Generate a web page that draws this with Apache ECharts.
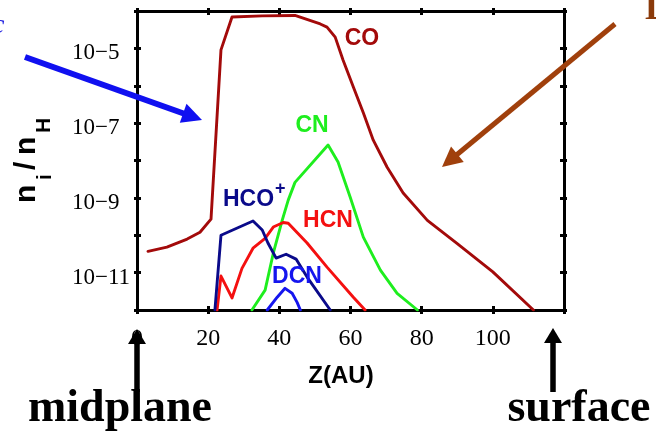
<!DOCTYPE html>
<html>
<head>
<meta charset="utf-8">
<script src="https://cdn.jsdelivr.net/npm/echarts@6/dist/echarts.min.js"></script>
<style>
html,body{margin:0;padding:0;background:#fff;}
#chart{width:656px;height:438px;}
</style>
</head>
<body>
<div id="chart"></div>
<script>
// ---- data (z in AU, abundance n_i/n_H) ----
const zCO  = [3.1, 8.4, 14.1, 17.7, 20.8, 23.6, 26.7, 35.2, 44.4, 51.5, 53.4, 55.7, 57.9, 60.8, 63.6, 66.4, 70.3, 74.8, 81.6, 90, 100, 111.4];
const nCO  = [3.7e-11, 4.8e-11, 7.9e-11, 1.2e-10, 2.7e-10, 9.1e-6, 6.9e-5, 7.4e-5, 7.6e-5, 4.5e-5, 3.7e-5, 2.0e-5, 4.9e-6, 9.3e-7, 1.9e-7, 3.5e-8, 6.6e-9, 1.35e-9, 2.5e-10, 6.0e-11, 1.05e-11, 1e-12];

const zCN  = [32.3, 36.0, 38.3, 40.8, 42.5, 44.4, 53.7, 56.5, 59.9, 63.6, 68.4, 73.1, 78.8];
const nCN  = [1e-12, 3.4e-12, 3.3e-11, 2.5e-10, 8.7e-10, 2.6e-9, 2.6e-8, 9.1e-9, 1.05e-9, 8.9e-11, 1.17e-11, 2.8e-12, 1e-12];

const zHCN = [22.5, 23.6, 26.7, 29.5, 32.6, 36.0, 38.3, 41.1, 42.5, 47.8, 53.4, 60.8, 64.1];
const nHCN = [1e-12, 8.1e-12, 2.1e-12, 1.3e-11, 4.5e-11, 8.3e-11, 1.66e-10, 2.2e-10, 2.1e-10, 6.2e-11, 1.4e-11, 2.2e-12, 1e-12];

const zHCOp = [21.9, 23.6, 32.6, 35.2, 36.8, 39.1, 41.9, 44.7, 47.8, 54.3];
const nHCOp = [1e-12, 1.0e-10, 2.4e-10, 1.38e-10, 6.2e-11, 2.45e-11, 3.1e-11, 2.3e-11, 7.6e-12, 1e-12];

const zDCN = [36.6, 39.4, 41.6, 43.6, 45.0, 45.9];
const nDCN = [1e-12, 2.2e-12, 3.8e-12, 2.8e-12, 1.6e-12, 1e-12];

const xTicks = [0, 20, 40, 60, 80, 100];
const yLabelExps = [-5, -7, -9, -11];
const speciesNames = ['CO', 'CN', 'HCO', 'HCN', 'DCN'];

// ---- build ----
const pair = (xs, ys) => xs.map((x, i) => [x, ys[i]]);
const serifTick = '"Liberation Serif", "Times New Roman", serif';
const sans = '"Liberation Sans", Arial, sans-serif';

const chart = echarts.init(document.getElementById('chart'), null, {renderer: 'canvas'});

const baseX = {type: 'value', min: 0, max: 120, interval: 20, splitLine: {show: false}};
const baseY = {type: 'log', logBase: 10, min: 1e-12, max: 1e-4, splitNumber: 8, splitLine: {show: false}};
const lineStyleAxis = {show: true, lineStyle: {color: '#000', width: 3}};

function mkLine(name, data, color, w) {
  return {type: 'line', name, data, xAxisIndex: 0, yAxisIndex: 0, symbol: 'none', smooth: false,
    lineStyle: {color, width: w, join: 'round', cap: 'round'}, itemStyle: {color}, z: 3};
}

function arrow(x1, y1, x2, y2, color, w, hl, hw) {
  const dx = x2 - x1, dy = y2 - y1, L = Math.hypot(dx, dy);
  const ux = dx / L, uy = dy / L, px = -uy, py = ux;
  const bx = x2 - ux * hl, by = y2 - uy * hl;
  return [
    {type: 'line', shape: {x1, y1, x2: bx + ux * 2, y2: by + uy * 2}, style: {stroke: color, lineWidth: w}, z: 50},
    {type: 'polygon', shape: {points: [[x2, y2], [bx + px * hw, by + py * hw], [bx - px * hw, by - py * hw]]},
      style: {fill: color}, z: 50}
  ];
}

const option = {
  backgroundColor: '#fff',
  animation: false,
  grid: {left: 137, top: 11, right: 92, bottom: 128, containLabel: false},
  xAxis: [
    Object.assign({}, baseX, {position: 'bottom', axisLine: Object.assign({onZero: false}, lineStyleAxis),
      axisTick: {show: true, inside: false, length: 4, lineStyle: {color: '#000', width: 3}},
      axisLabel: {show: true, margin: 17, color: '#000', fontFamily: serifTick, fontSize: 24,
        formatter: v => xTicks.indexOf(v) >= 0 ? String(v) : ''}}),
    Object.assign({}, baseX, {position: 'bottom', axisLine: {show: false, onZero: false},
      axisTick: {show: true, inside: true, length: 4, lineStyle: {color: '#000', width: 3}},
      axisLabel: {show: false}}),
    Object.assign({}, baseX, {position: 'top', axisLine: Object.assign({onZero: false}, lineStyleAxis),
      axisTick: {show: true, inside: true, length: 4, lineStyle: {color: '#000', width: 3}},
      axisLabel: {show: false}}),
    Object.assign({}, baseX, {position: 'top', axisLine: {show: false, onZero: false},
      axisTick: {show: true, inside: false, length: 3, lineStyle: {color: '#000', width: 3}},
      axisLabel: {show: false}})
  ],
  yAxis: [
    Object.assign({}, baseY, {position: 'left', axisLine: Object.assign({onZero: false}, lineStyleAxis),
      axisTick: {show: true, inside: true, length: 4, lineStyle: {color: '#000', width: 3}},
      axisLabel: {show: true, margin: 65, align: 'left', color: '#000',
        rich: {t: {fontFamily: serifTick, fontSize: 23, color: '#000', padding: [10, 0, 0, 0]}},
        formatter: v => {
          const e = Math.round(Math.log10(v));
          return yLabelExps.indexOf(e) >= 0 ? '{t|10\u2212' + (-e) + '}' : '';
        }}}),
    Object.assign({}, baseY, {position: 'left', axisLine: {show: false, onZero: false},
      axisTick: {show: true, inside: false, length: 3, lineStyle: {color: '#000', width: 3}},
      axisLabel: {show: false}}),
    Object.assign({}, baseY, {position: 'right', axisLine: Object.assign({onZero: false}, lineStyleAxis),
      axisTick: {show: true, inside: true, length: 4, lineStyle: {color: '#000', width: 3}},
      axisLabel: {show: false}}),
    Object.assign({}, baseY, {position: 'right', axisLine: {show: false, onZero: false},
      axisTick: {show: true, inside: false, length: 3, lineStyle: {color: '#000', width: 3}},
      axisLabel: {show: false}})
  ],
  series: [
    mkLine('CO', pair(zCO, nCO), '#a30a0a', 2.9),
    mkLine('CN', pair(zCN, nCN), '#1eee1e', 2.9),
    mkLine('HCN', pair(zHCN, nHCN), '#f41010', 2.9),
    mkLine('HCO+', pair(zHCOp, nHCOp), '#0a0a8a', 2.9),
    mkLine('DCN', pair(zDCN, nDCN), '#1515ee', 2.9)
  ],
  graphic: [
    // species labels
    {type: 'text', x: 362, y: 39, style: {text: speciesNames[0], fill: '#a30a0a', font: 'bold 23px ' + sans, align: 'center', verticalAlign: 'middle'}, z: 60},
    {type: 'text', x: 312, y: 126, style: {text: speciesNames[1], fill: '#1eee1e', font: 'bold 23px ' + sans, align: 'center', verticalAlign: 'middle'}, z: 60},
    {type: 'text', x: 223, y: 200, style: {text: speciesNames[2], fill: '#0a0a8a', font: 'bold 23px ' + sans, align: 'left', verticalAlign: 'middle'}, z: 60},
    {type: 'text', x: 275, y: 189, style: {text: '+', fill: '#0a0a8a', font: 'bold 18px ' + sans, align: 'left', verticalAlign: 'middle'}, z: 60},
    {type: 'text', x: 328, y: 221, style: {text: speciesNames[3], fill: '#f41010', font: 'bold 23px ' + sans, align: 'center', verticalAlign: 'middle'}, z: 60},
    {type: 'text', x: 297, y: 277, style: {text: speciesNames[4], fill: '#1515ee', font: 'bold 23px ' + sans, align: 'center', verticalAlign: 'middle'}, z: 60},
    // x axis name
    {type: 'text', x: 341, y: 376, style: {text: 'Z(AU)', fill: '#000', font: 'bold 24px ' + sans, align: 'center', verticalAlign: 'middle'}},
    // y axis name n_i/n_H, rotated
    {type: 'group', x: 0, y: 203, rotation: Math.PI / 2, children: [
      {type: 'text', x: 0, y: 27, style: {text: 'n', fill: '#000', font: 'bold 30px ' + sans, align: 'left', verticalAlign: 'middle'}},
      {type: 'text', x: 23, y: 45, style: {text: 'i', fill: '#000', font: 'bold 21px ' + sans, align: 'left', verticalAlign: 'middle'}},
      {type: 'text', x: 33, y: 27, style: {text: '/', fill: '#000', font: 'bold 30px ' + sans, align: 'left', verticalAlign: 'middle'}},
      {type: 'text', x: 48, y: 27, style: {text: 'n', fill: '#000', font: 'bold 30px ' + sans, align: 'left', verticalAlign: 'middle'}},
      {type: 'text', x: 70, y: 44, style: {text: 'H', fill: '#000', font: 'bold 21px ' + sans, align: 'left', verticalAlign: 'middle'}}
    ]},
    // bottom annotations
    {type: 'text', x: 120, y: 432, style: {text: 'midplane', fill: '#000', font: 'bold 46px ' + serifTick, align: 'center', verticalAlign: 'bottom'}},
    {type: 'text', x: 579, y: 432, style: {text: 'surface', fill: '#000', font: 'bold 46px ' + serifTick, align: 'center', verticalAlign: 'bottom'}},
    // partial glyphs at the cropped edges
    {type: 'text', x: 645, y: 28, style: {text: 'D', fill: '#8a3a0a', font: 'bold 36px ' + serifTick, align: 'left', verticalAlign: 'bottom'}},
    {type: 'text', x: -8, y: 40, style: {text: 'c', fill: '#2020e0', font: 'italic 28px ' + serifTick, align: 'left', verticalAlign: 'bottom'}}
  ]
    .concat(arrow(137, 392, 137, 329, '#000', 5.5, 15, 9))
    .concat(arrow(553, 392, 553, 328, '#000', 5.5, 15, 9))
    .concat(arrow(25, 57, 202, 120, '#1010f0', 6, 20, 10))
    .concat(arrow(615, 24, 442, 167, '#a0400c', 5, 20, 10))
};
chart.setOption(option);
</script>
</body>
</html>
